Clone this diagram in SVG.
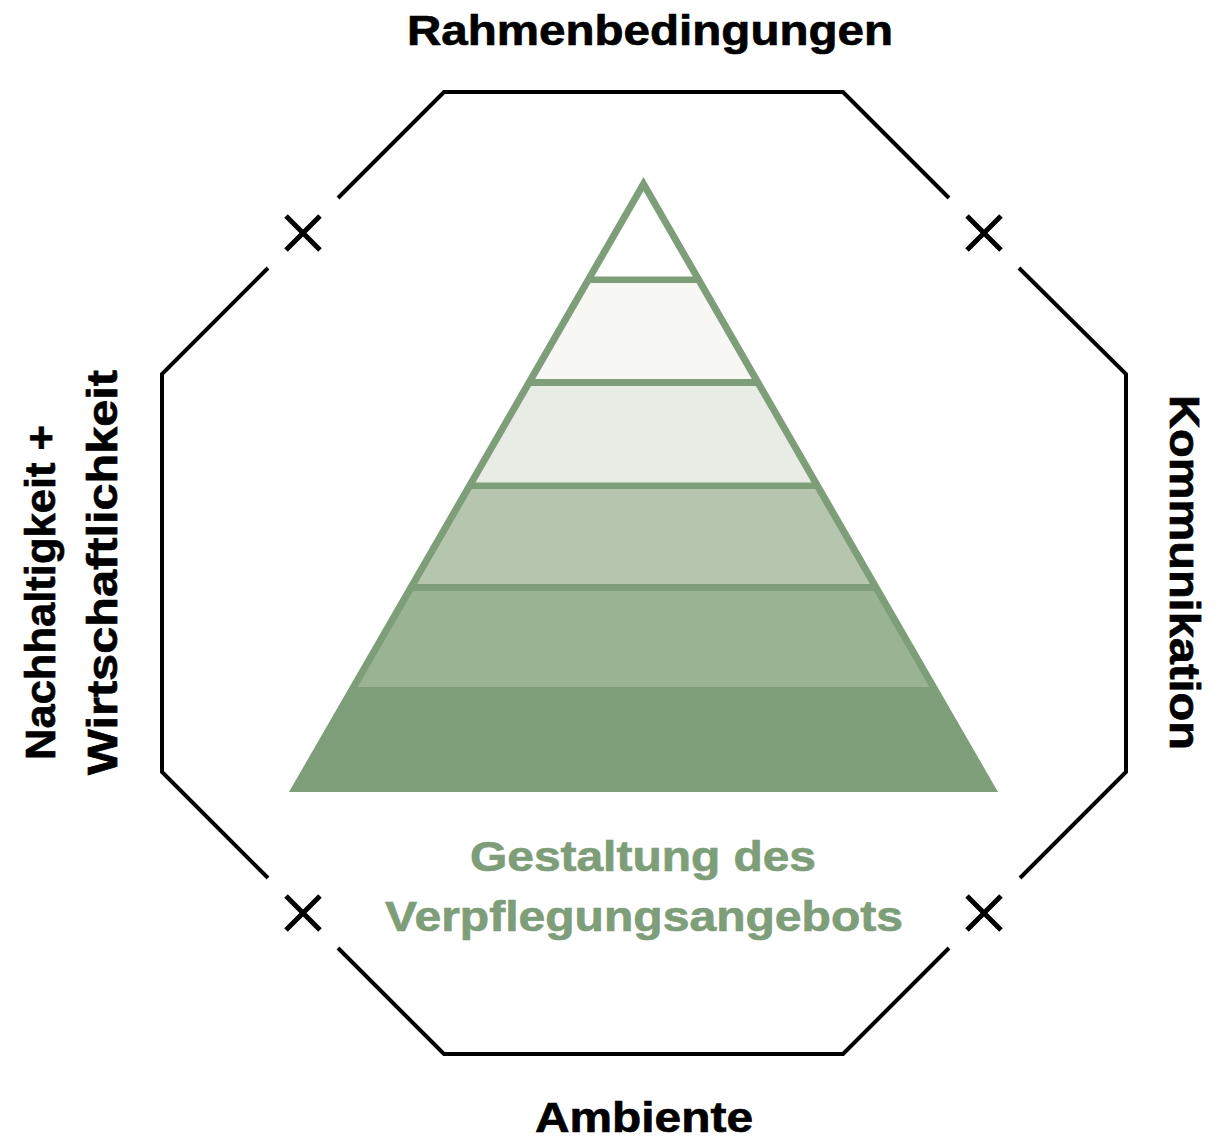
<svg xmlns="http://www.w3.org/2000/svg" width="1218" height="1139" viewBox="0 0 1218 1139">
  <style>
    .frame { fill: none; stroke: #000; stroke-width: 4; stroke-linecap: butt; }
    .cross { fill: none; stroke: #000; stroke-width: 5; stroke-linecap: butt; }
    .label { font-family: "Liberation Sans", Arial, sans-serif; font-weight: bold; font-size: 43px; fill: #000; stroke: #000; stroke-width: 0.7; }
    .title { font-family: "Liberation Sans", Arial, sans-serif; font-weight: bold; font-size: 43px; fill: #7d9e78; stroke: #7d9e78; stroke-width: 0.7; text-anchor: middle; }
  </style>

  <!-- octagonal frame, diagonals broken around the crosses -->
  <g id="frame">
    <polyline class="frame" points="338,198 444,92 843,92 949,198"/>
    <polyline class="frame" points="1019,268 1126,374 1126,772 1020,878"/>
    <polyline class="frame" points="949,948 843,1054 444,1054 338,948"/>
    <polyline class="frame" points="268,878 162,772 162,374 268,268"/>
  </g>

  <!-- crosses on the four diagonals -->
  <g id="crosses">
    <path class="cross" d="M286,216 L320,250 M320,216 L286,250"/>
    <path class="cross" d="M967,216 L1001,250 M1001,216 L967,250"/>
    <path class="cross" d="M286,896 L320,930 M320,896 L286,930"/>
    <path class="cross" d="M967,896 L1001,930 M1001,896 L967,930"/>
  </g>

  <!-- pyramid: outer triangle in the outline colour, layers inset -->
  <g id="pyramid">
    <polygon points="643.5,177 998,792 289,792" fill="#7d9e78"/>
    <polygon points="643.5,191 692.8,276.5 594.2,276.5" fill="#ffffff"/>
    <polygon points="590.5,283 696.5,283 751.8,379 535.2,379" fill="#f7f7f4"/>
    <polygon points="531.1,386 755.9,386 811.5,482.5 475.5,482.5" fill="#e7ece4"/>
    <polygon points="471.8,489 815.2,489 870,584 417,584" fill="#b6c5ae"/>
    <polygon points="413,591 874,591 929.4,687 357.6,687" fill="#9ab393"/>
  </g>

  <g id="title">
    <text class="title" x="643" y="871" textLength="346" lengthAdjust="spacingAndGlyphs">Gestaltung des</text>
    <text class="title" x="644" y="931" textLength="518" lengthAdjust="spacingAndGlyphs">Verpflegungsangebots</text>
  </g>

  <g id="label-top">
    <text class="label" x="407" y="45" textLength="486" lengthAdjust="spacingAndGlyphs">Rahmenbedingungen</text>
  </g>
  <g id="label-bottom">
    <text class="label" x="535" y="1132" textLength="218" lengthAdjust="spacingAndGlyphs">Ambiente</text>
  </g>
  <g id="label-left">
    <text class="label" transform="translate(55,760) rotate(-90)" textLength="335" lengthAdjust="spacingAndGlyphs">Nachhaltigkeit +</text>
    <text class="label" transform="translate(117,775) rotate(-90)" textLength="405" lengthAdjust="spacingAndGlyphs">Wirtschaftlichkeit</text>
  </g>
  <g id="label-right">
    <text class="label" transform="translate(1170,395) rotate(90)" textLength="355" lengthAdjust="spacingAndGlyphs">Kommunikation</text>
  </g>
</svg>
